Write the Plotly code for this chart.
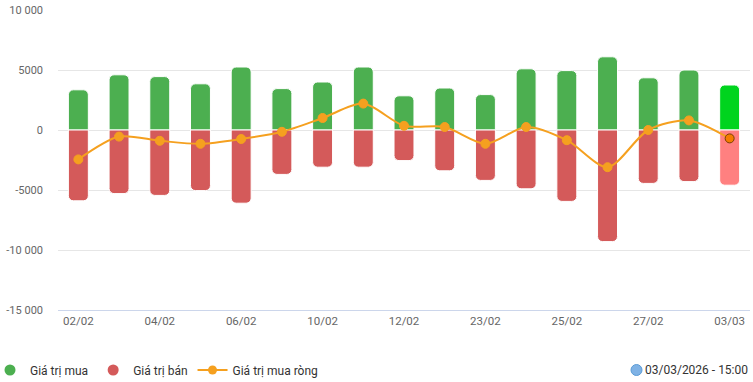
import plotly.graph_objects as go

dates = ["02/02", "03/02", "04/02", "05/02", "06/02", "09/02", "10/02", "11/02", "12/02",
         "13/02", "23/02", "24/02", "25/02", "26/02", "27/02", "02/03", "03/03"]
buy_values = [3350, 4600, 4450, 3850, 5250, 3450, 4000, 5250, 2850, 3500, 2950,
              5100, 4950, 6100, 4350, 5000, 3750]
sell_values = [-5900, -5300, -5450, -5050, -6100, -3700, -3100, -3100, -2550, -3400, -4200,
               -4900, -5950, -9300, -4450, -4300, -4600]
net_values = [-2450, -550, -900, -1150, -750, -150, 1000, 2200, 350, 250, -1150,
              250, -850, -3100, 0, 800, -700]
shown_ticks = ["02/02", "04/02", "06/02", "10/02", "12/02", "23/02", "25/02", "27/02", "03/03"]
y_ticks = [-15000, -10000, -5000, 0, 5000, 10000]
y_tick_text = ["-15 000", "-10 000", "-5000", "0", "5000", "10 000"]
stamp = "03/03/2026 - 15:00"

n = len(dates)
green = ["#4caf50"] * (n - 1) + ["#00d41e"]
red = ["#d45a5a"] * (n - 1) + ["#ff8080"]
dot_fill = ["#f5a01f"] * (n - 1) + ["#f57c00"]
dot_line = ["#f5a01f"] * (n - 1) + ["#7a3d00"]

fig = go.Figure()
fig.add_trace(go.Bar(x=dates, y=buy_values, name="Giá trị mua", width=0.49,
                     legendgroup="buy", showlegend=False,
                     marker=dict(color=green, line=dict(color="white", width=1),
                                 cornerradius=5)))
fig.add_trace(go.Bar(x=dates, y=sell_values, name="Giá trị bán", width=0.49,
                     legendgroup="sell", showlegend=False,
                     marker=dict(color=red, line=dict(color="white", width=1),
                                 cornerradius=5)))
fig.add_trace(go.Scatter(x=dates, y=net_values, name="Giá trị mua ròng", mode="lines+markers",
                         legendgroup="net", showlegend=False,
                         line=dict(color="#f5a01f", width=2, shape="spline", smoothing=0.8),
                         marker=dict(size=9, color=dot_fill, line=dict(color=dot_line, width=1))))
# legend entries (circle symbols as in the reference)
fig.add_trace(go.Scatter(x=[None], y=[None], name="Giá trị mua", mode="markers",
                         legendgroup="buy", marker=dict(size=11, color="#4caf50")))
fig.add_trace(go.Scatter(x=[None], y=[None], name="Giá trị bán", mode="markers",
                         legendgroup="sell", marker=dict(size=11, color="#d45a5a")))
fig.add_trace(go.Scatter(x=[None], y=[None], name="Giá trị mua ròng", mode="lines+markers",
                         legendgroup="net", line=dict(color="#f5a01f", width=2),
                         marker=dict(size=9, color="#f5a01f")))

fig.update_layout(
    width=753, height=382,
    margin=dict(l=58, r=3, t=10, b=72, autoexpand=False),
    paper_bgcolor="white", plot_bgcolor="white",
    barmode="overlay",
    font=dict(family="Roboto, Arial, sans-serif", size=12, color="#333333"),
    showlegend=True,
    legend=dict(orientation="h", xref="paper", yref="paper", x=(-10 - 58) / 692, y=-0.2,
                xanchor="left", yanchor="middle", itemwidth=30,
                font=dict(size=12, color="#333333"), bgcolor="rgba(0,0,0,0)",
                traceorder="normal"),
    annotations=[dict(text=stamp, xref="paper", yref="paper", x=1.0, y=-0.2,
                      xanchor="right", yanchor="middle", showarrow=False,
                      font=dict(size=12, color="#333333"))],
    shapes=[dict(type="circle", xref="paper", yref="paper",
                 x0=(631 - 58) / 692, x1=(642 - 58) / 692,
                 y0=-(375.5 - 310) / 300, y1=-(364.5 - 310) / 300,
                 fillcolor="#7fb2e5", line=dict(color="#5b9bd5", width=1))],
)
fig.update_xaxes(type="category", tickvals=shown_ticks, ticktext=shown_ticks,
                 showgrid=False, showline=True, linecolor="#ccd6eb", linewidth=1,
                 tickfont=dict(size=11.5, color="#666666"), ticks="", range=[-0.5, n - 0.5])
fig.update_yaxes(range=[-15000, 10000], tickvals=y_ticks, ticktext=y_tick_text,
                 showgrid=True, gridcolor="#e6e6e6", zeroline=False,
                 tickfont=dict(size=11, color="#666666"), ticklabelstandoff=14)

fig.write_html("out.html", config={"displayModeBar": False},
               post_script="document.body.style.margin='0';")
